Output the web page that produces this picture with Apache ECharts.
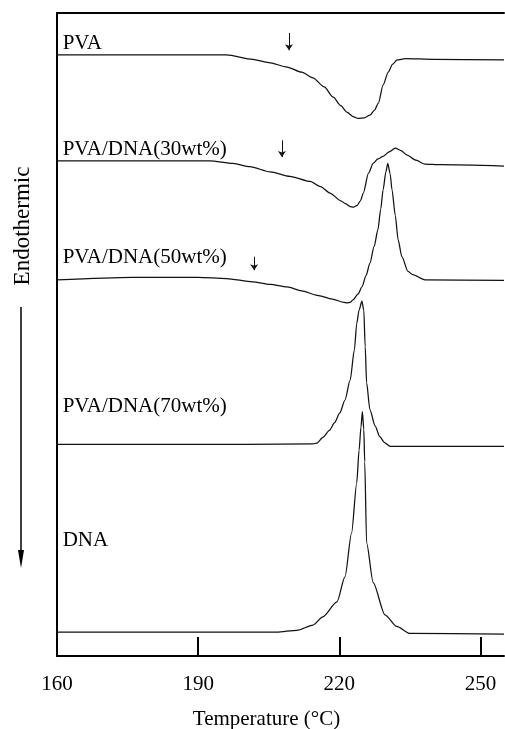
<!DOCTYPE html>
<html>
<head>
<meta charset="utf-8">
<script src="https://cdn.jsdelivr.net/npm/echarts@6/dist/echarts.min.js"></script>
<style>html,body{margin:0;padding:0;background:#fff;}#c{width:505px;height:729px;}</style>
</head>
<body>
<div id="c"></div>
<script>
// Temperature (°C) and heat-flow (arbitrary units, endothermic down) for each thermogram
const tPVA = [160, 180, 196, 201.6, 205, 208.9, 212, 214.4, 216.8, 218.7, 220.3, 221.6, 222.9, 224.0, 225.3, 226.5, 227.5, 228.3, 229.3, 230.4, 231.3, 232.3, 234.0, 240, 255];
const hPVA = [93.5, 93.5, 93.5, 92.8, 92.3, 91.6, 90.8, 89.9, 88.5, 86.9, 85.6, 84.6, 83.9, 83.6, 83.7, 84.1, 84.9, 86.0, 88.8, 90.8, 92.0, 92.7, 92.9, 92.8, 92.7];

const t30 = [160, 185, 192.5, 197.4, 201.0, 205.3, 209.5, 213.8, 216, 218.0, 220.3, 221.4, 222.3, 223.0, 223.8, 224.5, 225.1, 226.2, 227.2, 228.2, 229.3, 230.6, 231.9, 233.1, 234.4, 236.3, 238.2, 241.4, 255];
const h30 = [77.0, 77.0, 77.0, 76.6, 76.1, 75.3, 74.6, 73.8, 73.0, 72.0, 70.8, 70.3, 69.9, 69.8, 70.1, 70.8, 72.0, 75.1, 76.6, 77.3, 77.7, 78.4, 79.0, 78.6, 77.9, 77.1, 76.5, 76.4, 76.2];

const t50 = [160, 176, 190, 196, 201.6, 205.3, 208.9, 212, 215.3, 218.5, 221.0, 221.6, 222.3, 222.9, 224.0, 224.8, 225.7, 226.5, 227.4, 228.2, 228.8, 229.3, 229.9, 230.3, 230.8, 231.2, 231.9, 232.5, 233.3, 234.6, 235.6, 238.2, 255];
const h50 = [58.5, 58.9, 58.9, 58.7, 58.2, 57.8, 57.4, 56.8, 56.1, 55.5, 55.0, 54.9, 55.0, 55.4, 56.3, 57.4, 59.2, 61.1, 63.7, 66.3, 69.5, 72.5, 75.3, 76.6, 75.0, 72.5, 68.5, 64.7, 62.1, 59.8, 59.3, 58.5, 58.4];

const t70 = [160, 200, 214.4, 215.2, 216.5, 217.9, 219.0, 220.1, 221.2, 222.3, 223.2, 223.7, 224.2, 224.8, 225.2, 225.5, 225.8, 226.5, 227.6, 228.6, 229.6, 230.8, 255];
const h70 = [32.9, 32.9, 33.0, 33.1, 34.0, 35.1, 36.3, 37.8, 39.8, 42.9, 47.6, 51.7, 53.8, 55.2, 53.8, 48.1, 42.5, 38.3, 35.8, 34.1, 33.2, 32.6, 32.6];

const tDNA = [160, 206.7, 211.0, 214.4, 216.5, 219.5, 221.2, 222.6, 223.7, 224.2, 224.6, 224.9, 225.2, 225.4, 225.8, 227.2, 229.7, 232.2, 235.0, 255];
const hDNA = [3.7, 3.7, 4.0, 4.8, 6.1, 8.4, 12.3, 19.1, 26.9, 32.0, 35.6, 38.0, 35.3, 30.2, 17.6, 11.4, 6.4, 4.6, 3.5, 3.4];

const seriesNames = ['PVA', 'PVA/DNA(30wt%)', 'PVA/DNA(50wt%)', 'PVA/DNA(70wt%)', 'DNA'];
const labelAnchorT = [161.2, 161.2, 161.2, 161.2, 161.2];
const labelAnchorH = [95.3, 78.7, 62.0, 38.8, 18.0];
// Tg arrows: temperature, start and end heat-flow
const arrowT = [209.3, 207.8, 201.9];
const arrowH1 = [96.9, 80.2, 62.1];
const arrowH2 = [94.2, 77.6, 60.0];

const xTicks = [160, 190, 220, 250];

const zip = (a, b) => a.map((v, i) => [v, b[i]]);
const temps = [tPVA, t30, t50, t70, tDNA];
const heats = [hPVA, h30, h50, h70, hDNA];

const FONT = 'Liberation Serif';
const chart = echarts.init(document.getElementById('c'), null, {renderer: 'canvas'});

const series = seriesNames.map((name, i) => {
  const s = {
    name: name,
    type: 'line',
    data: zip(temps[i], heats[i]),
    symbol: 'none',
    smooth: 0.25,
    smoothMonotone: 'x',
    lineStyle: {color: '#111', width: 1.25},
    silent: true,
    animation: false
  };
  if (i < arrowT.length) {
    s.markLine = {
      silent: true,
      animation: false,
      symbol: ['none', 'arrow'],
      symbolSize: 6,
      label: {show: false},
      lineStyle: {color: '#111', width: 1, type: 'solid'},
      data: [[{coord: [arrowT[i], arrowH1[i]]}, {coord: [arrowT[i], arrowH2[i]]}]]
    };
  }
  return s;
});

const option = {
  animation: false,
  backgroundColor: '#fff',
  grid: {left: 57, right: 1, top: 13, bottom: 73, containLabel: false, outerBoundsMode: 'none'},
  xAxis: [{
    type: 'value', min: 160, max: 255, position: 'bottom',
    name: 'Temperature (°C)', nameLocation: 'middle', nameGap: 53,
    nameTextStyle: {fontFamily: FONT, fontSize: 21, color: '#000', padding: [0, 28, 0, 0]},
    axisLine: {show: true, lineStyle: {color: '#000', width: 2}},
    axisTick: {show: true, inside: true, length: 19, lineStyle: {color: '#000', width: 2}, customValues: xTicks.slice(1)},
    axisLabel: {fontFamily: FONT, fontSize: 21, color: '#000', margin: 18, customValues: xTicks},
    splitLine: {show: false}
  }, {
    type: 'value', min: 160, max: 255, position: 'top',
    axisLine: {show: true, lineStyle: {color: '#000', width: 2}},
    axisTick: {show: false}, axisLabel: {show: false}, splitLine: {show: false}
  }],
  yAxis: {
    type: 'value', min: 0, max: 100,
    axisLine: {show: true, lineStyle: {color: '#000', width: 2}},
    axisTick: {show: false}, axisLabel: {show: false}, splitLine: {show: false}
  },
  series: series
};
chart.setOption(option);

const graphics = [];
seriesNames.forEach((name, i) => {
  const p = chart.convertToPixel({gridIndex: 0}, [labelAnchorT[i], labelAnchorH[i]]);
  graphics.push({
    type: 'text', x: p[0], y: p[1],
    style: {text: name, fontFamily: FONT, fontSize: 21, fill: '#000', textAlign: 'left', textVerticalAlign: 'middle'}
  });
});
graphics.push({
  type: 'text', x: 23, y: 226, rotation: Math.PI / 2,
  style: {text: 'Endothermic', fontFamily: FONT, fontSize: 23, fill: '#000', textAlign: 'center', textVerticalAlign: 'middle'}
});
graphics.push({type: 'line', shape: {x1: 21, y1: 307, x2: 21, y2: 556}, style: {stroke: '#000', lineWidth: 1.5}});
graphics.push({type: 'polygon', shape: {points: [[18, 550], [24, 550], [21, 568]]}, style: {fill: '#000'}});
chart.setOption({graphic: graphics});
</script>
</body>
</html>
